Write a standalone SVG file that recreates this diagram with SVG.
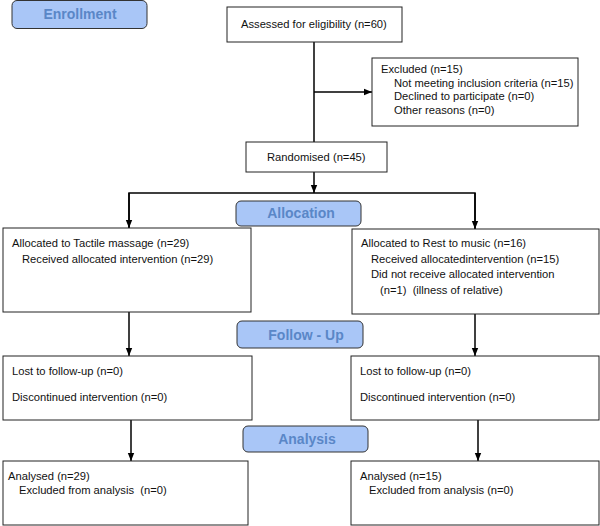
<svg xmlns="http://www.w3.org/2000/svg" width="600" height="526" viewBox="0 0 600 526">
<defs>
<style>
.box{fill:#fff;stroke:#222;stroke-width:1}
.lbl{fill:#a9c6f7;stroke:#333;stroke-width:1}
.lt{font-family:"Liberation Sans",Arial,sans-serif;font-size:14px;font-weight:bold;fill:#5a87c7;text-anchor:middle}
.t{font-family:"Liberation Sans",Arial,sans-serif;font-size:11.2px;fill:#111;white-space:pre}
.c{fill:none;stroke:#000;stroke-width:1.5}
</style>
<marker id="ah" markerUnits="userSpaceOnUse" markerWidth="8" markerHeight="8" viewBox="0 0 8 8" refX="8" refY="4" orient="auto">
<path d="M0,0.8 L8,4 L0,7.2 Z" fill="#000"/>
</marker>
</defs>
<rect width="600" height="526" fill="#fff"/>
<g id="connectors">
<line class="c" x1="314" y1="42" x2="314" y2="142"/>
<line class="c" x1="314" y1="92" x2="372" y2="92" marker-end="url(#ah)"/>
<line class="c" x1="314" y1="172" x2="314" y2="193" marker-end="url(#ah)"/>
<polyline class="c" points="129,228 129,193 475,193 475,229"/>
<line class="c" x1="129" y1="193" x2="129" y2="228" marker-end="url(#ah)"/>
<line class="c" x1="475" y1="193" x2="475" y2="229" marker-end="url(#ah)"/>
<line class="c" x1="129" y1="312" x2="129" y2="356" marker-end="url(#ah)"/>
<line class="c" x1="475" y1="314" x2="475" y2="356" marker-end="url(#ah)"/>
<line class="c" x1="131" y1="420" x2="131" y2="461" marker-end="url(#ah)"/>
<line class="c" x1="478" y1="420" x2="478" y2="461" marker-end="url(#ah)"/>
</g>
<g id="enrollment">
<rect class="lbl" x="12" y="0.5" width="135" height="28" rx="5"/>
<text class="lt" x="80" y="19">Enrollment</text>
</g>
<g id="assessed">
<rect class="box" x="227" y="7" width="175" height="35"/>
<text class="t" x="241" y="28">Assessed for eligibility (n=60)</text>
</g>
<g id="excluded">
<rect class="box" x="372" y="58" width="206" height="68"/>
<text class="t" x="381" y="73">Excluded (n=15)</text>
<text class="t" x="394" y="86.5">Not meeting inclusion criteria (n=15)</text>
<text class="t" x="394" y="100">Declined to participate (n=0)</text>
<text class="t" x="394" y="113.5">Other reasons (n=0)</text>
</g>
<g id="randomised">
<rect class="box" x="246" y="142" width="141" height="30"/>
<text class="t" x="267" y="161">Randomised (n=45)</text>
</g>
<g id="allocation">
<rect class="lbl" x="236" y="201" width="125" height="25" rx="5"/>
<text class="lt" x="301" y="218">Allocation</text>
</g>
<g id="alloc-left">
<rect class="box" x="3" y="228" width="248" height="84"/>
<text class="t" x="12" y="247">Allocated to Tactile massage (n=29)</text>
<text class="t" x="22" y="263">Received allocated intervention (n=29)</text>
</g>
<g id="alloc-right">
<rect class="box" x="352" y="229" width="247" height="85"/>
<text class="t" x="361" y="247">Allocated to Rest to music (n=16)</text>
<text class="t" x="371" y="263">Received allocatedintervention (n=15)</text>
<text class="t" x="371" y="278">Did not receive allocated intervention</text>
<text class="t" x="380" y="294">(n=1)  (illness of relative)</text>
</g>
<g id="followup">
<rect class="lbl" x="237" y="321" width="126" height="27" rx="5"/>
<text class="lt" x="306" y="340">Follow - Up</text>
</g>
<g id="follow-left">
<rect class="box" x="3" y="356" width="249" height="64"/>
<text class="t" x="12" y="375">Lost to follow-up (n=0)</text>
<text class="t" x="12" y="401">Discontinued intervention (n=0)</text>
</g>
<g id="follow-right">
<rect class="box" x="351" y="356" width="248" height="64"/>
<text class="t" x="360" y="375">Lost to follow-up (n=0)</text>
<text class="t" x="360" y="401">Discontinued intervention (n=0)</text>
</g>
<g id="analysis">
<rect class="lbl" x="243" y="426" width="125" height="26" rx="5"/>
<text class="lt" x="307" y="444">Analysis</text>
</g>
<g id="analysis-left">
<rect class="box" x="3" y="461" width="245" height="64"/>
<text class="t" x="8" y="480">Analysed (n=29)</text>
<text class="t" x="19" y="494">Excluded from analysis  (n=0)</text>
</g>
<g id="analysis-right">
<rect class="box" x="351" y="461" width="248" height="64"/>
<text class="t" x="360" y="480">Analysed (n=15)</text>
<text class="t" x="369" y="494">Excluded from analysis (n=0)</text>
</g>
</svg>
